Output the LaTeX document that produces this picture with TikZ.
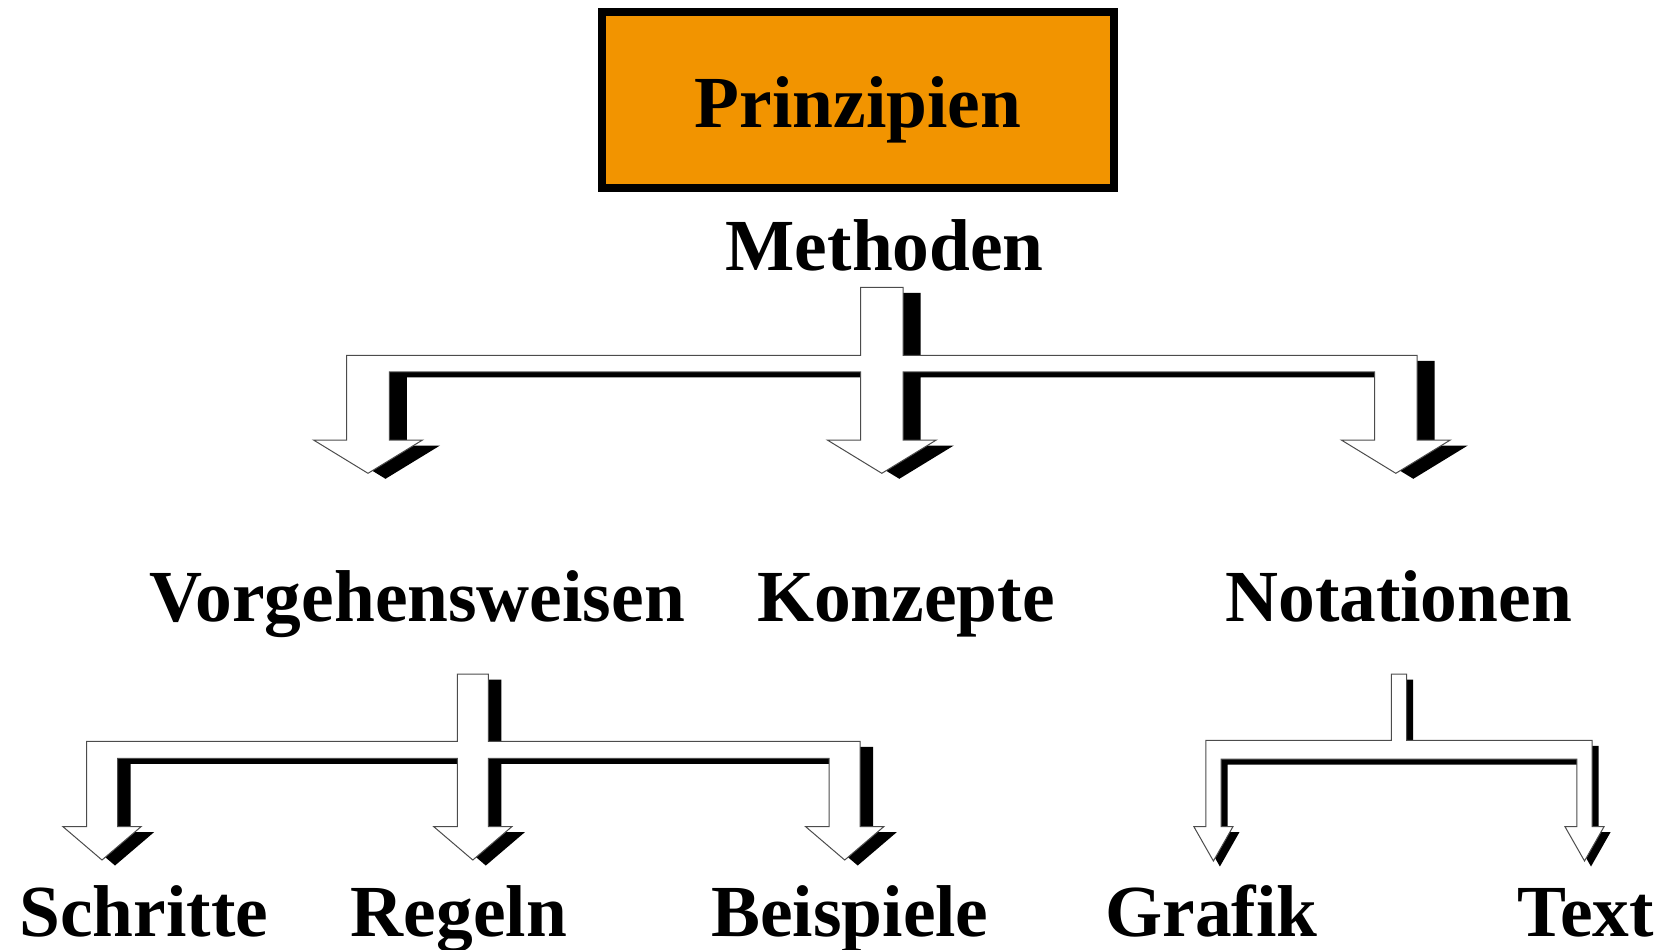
\documentclass[tikz,border=0pt]{standalone}
\usepackage{fontspec}
\setmainfont{Liberation Serif}
\definecolor{prinzorange}{RGB}{242,148,0}

% Parameters of a block-arrow fork (one stem splitting into two or three arrows)
\pgfkeys{/fork/.is family,
  /fork/.cd,
  x/.store in=\fkx,        % stem centre
  top/.store in=\fktop,    % top of the stem
  bar/.store in=\fkbar,    % top of the cross bar
  thick/.store in=\fkthick,% thickness of the cross bar
  shaft/.store in=\fksw,   % half width of stem and shafts
  head/.store in=\fkhw,    % half width of an arrow head
  headtop/.store in=\fkht, % top of the arrow heads
  tip/.store in=\fktip,    % arrow tips
  left/.store in=\fkl,     % centre of the left shaft
  right/.store in=\fkr,    % centre of the right shaft
  branches/.store in=\fkn, % 2 or 3 arrows
  dx/.store in=\fkdx,      % shadow offset
  dy/.store in=\fkdy,
  branches=3, dx=15, dy=6}

\newcommand\forkoutline[1]{%
  \ifnum\fkn=3
    \path[#1] ({\fkx-\fksw},\fktop) -- ({\fkx+\fksw},\fktop) -- ({\fkx+\fksw},\fkbar)
      -- ({\fkr+\fksw},\fkbar) -- ({\fkr+\fksw},\fkht) -- ({\fkr+\fkhw},\fkht) -- (\fkr,\fktip)
      -- ({\fkr-\fkhw},\fkht) -- ({\fkr-\fksw},\fkht) -- ({\fkr-\fksw},{\fkbar+\fkthick})
      -- ({\fkx+\fksw},{\fkbar+\fkthick}) -- ({\fkx+\fksw},\fkht) -- ({\fkx+\fkhw},\fkht) -- (\fkx,\fktip)
      -- ({\fkx-\fkhw},\fkht) -- ({\fkx-\fksw},\fkht) -- ({\fkx-\fksw},{\fkbar+\fkthick})
      -- ({\fkl+\fksw},{\fkbar+\fkthick}) -- ({\fkl+\fksw},\fkht) -- ({\fkl+\fkhw},\fkht) -- (\fkl,\fktip)
      -- ({\fkl-\fkhw},\fkht) -- ({\fkl-\fksw},\fkht) -- ({\fkl-\fksw},\fkbar) -- ({\fkx-\fksw},\fkbar) -- cycle;
  \else
    \path[#1] ({\fkx-\fksw},\fktop) -- ({\fkx+\fksw},\fktop) -- ({\fkx+\fksw},\fkbar)
      -- ({\fkr+\fksw},\fkbar) -- ({\fkr+\fksw},\fkht) -- ({\fkr+\fkhw},\fkht) -- (\fkr,\fktip)
      -- ({\fkr-\fkhw},\fkht) -- ({\fkr-\fksw},\fkht) -- ({\fkr-\fksw},{\fkbar+\fkthick})
      -- ({\fkl+\fksw},{\fkbar+\fkthick}) -- ({\fkl+\fksw},\fkht) -- ({\fkl+\fkhw},\fkht) -- (\fkl,\fktip)
      -- ({\fkl-\fkhw},\fkht) -- ({\fkl-\fksw},\fkht) -- ({\fkl-\fksw},\fkbar) -- ({\fkx-\fksw},\fkbar) -- cycle;
  \fi}

% A fork: black drop shadow first, white face with thin outline on top
\newcommand\fork[1]{%
  \pgfkeys{/fork/.cd,#1}%
  \forkoutline{arrowshadow,shift={(\fkdx,\fkdy)}}%
  \forkoutline{arrowface}}

\begin{document}
\begin{tikzpicture}[x=0.5pt,y=-0.5pt,
  term/.style={font=\fontsize{36.7}{40}\selectfont\bfseries, anchor=base, inner sep=0pt},
  titlebox/.style={draw=black, line width=4pt, fill=prinzorange,
    minimum width=255.75pt, minimum height=88pt, inner sep=0pt,
    text height=29pt, text depth=1.6pt,
    font=\fontsize{36.7}{40}\selectfont\bfseries},
  arrowface/.style={fill=white, draw=black!70, line width=0.5pt, line join=miter},
  arrowshadow/.style={fill=black}]

\useasboundingbox (0,0) rectangle (1670,949);

% title box
\node[titlebox] (prinzipien) at (858,100.3) {Prinzipien};

% labels
\node[term] (methoden) at (884.7,270) {Methoden};
\node[term] (vorgehen) at (417.1,621) {Vorgehensweisen};
\node[term] (konzepte) at (905.9,621) {Konzepte};
\node[term] (notation) at (1398.6,621) {Notationen};
\node[term] (schritte) at (143.8,936) {Schritte};
\node[term] (regeln)   at (459,936)   {Regeln};
\node[term] (beispiele) at (849.9,936) {Beispiele};
\node[term] (grafik)   at (1211.5,936) {Grafik};
\node[term] (text)     at (1585.7,936) {Text};

% Methoden -> Vorgehensweisen, Konzepte, Notationen
\fork{x=881.8, top=287.3, bar=355.3, thick=16.5, shaft=21.3, head=54.5,
      headtop=440, tip=473.3, left=368, right=1395.8, branches=3, dx=17.5, dy=5.5}

% Vorgehensweisen -> Schritte, Regeln, Beispiele
\fork{x=472.8, top=674, bar=741.3, thick=17, shaft=15.5, head=39,
      headtop=826.7, tip=860, left=102, right=844.7, branches=3, dx=13, dy=5.5}

% Notationen -> Grafik, Text
\fork{x=1399, top=674, bar=740.3, thick=18.7, shaft=7.6, head=19.5,
      headtop=826.7, tip=861, left=1213.4, right=1584.5, branches=2, dx=6.5, dy=5.5}

\end{tikzpicture}
\end{document}
